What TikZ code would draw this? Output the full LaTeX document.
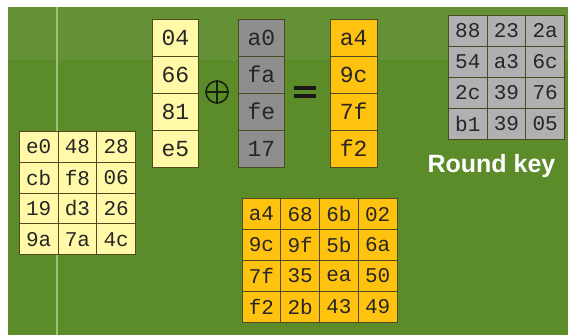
\documentclass[tikz,border=0pt]{standalone}
\usepackage{fontspec}
\newfontfamily\monof{Liberation Mono}
\newfontfamily\sansb{Liberation Sans}
\definecolor{bgg}{HTML}{5C8B2A}
\definecolor{vline}{HTML}{9CC27A}
\definecolor{ly}{HTML}{FFF9A8}
\definecolor{dg}{HTML}{8E8E8E}
\definecolor{lg}{HTML}{B0B0B2}
\definecolor{og}{HTML}{FFC20E}
\definecolor{bord}{HTML}{4E4A22}
\definecolor{sym}{HTML}{14240C}
\tikzset{
  cellbox/.style={draw=bord, line width=0.8pt, inner sep=0pt, anchor=north west,
     text=black!85},
  mcell/.style={cellbox, minimum width=38.7pt, minimum height=30.8pt,
     font=\monof\fontsize{21}{21}\selectfont},
  ccell/.style={cellbox, minimum width=46.5pt, minimum height=36.9pt,
     font=\monof\fontsize{23}{23}\selectfont},
}
\begin{document}
\begin{tikzpicture}[x=1pt,y=-1pt]
\useasboundingbox (0,0) rectangle (568,335);
\fill[white] (0,0) rectangle (568,335);
\fill[bgg] (8,7) rectangle (568,335);
\fill[white,opacity=0.06] (8,7) rectangle (568,60);
\draw[vline, line width=1.4pt] (57,7) -- (57,335);
% left state matrix
\foreach \v [count=\i from 0] in {e0,48,28,cb,f8,06,19,d3,26,9a,7a,4c}{
  \pgfmathtruncatemacro\c{mod(\i,3)}
  \pgfmathtruncatemacro\r{div(\i,3)}
  \node[mcell, fill=ly] (L\i) at (19+\c*38.7, 131+\r*30.8) {\v};
}
% column
\foreach \v [count=\i from 0] in {04,66,81,e5}{
  \node[ccell, fill=ly] (A\i) at (151.7, 19+\i*36.9) {\v};
}
\foreach \v [count=\i from 0] in {a0,fa,fe,17}{
  \node[ccell, fill=dg] (B\i) at (237.7, 19+\i*36.9) {\v};
}
\foreach \v [count=\i from 0] in {a4,9c,7f,f2}{
  \node[ccell, fill=og] (C\i) at (330, 19+\i*36.9) {\v};
}
% xor symbol
\node[circle, draw=sym, line width=1.6pt, minimum size=22pt, inner sep=0pt] (xor) at (217,92) {};
\draw[sym, line width=1.6pt] (xor.north) -- (xor.south) (xor.west) -- (xor.east);
% equals
\node[fill=black!90, minimum width=22pt, minimum height=4pt, inner sep=0pt] (eqa) at (304.5,87.5) {};
\node[fill=black!90, minimum width=22pt, minimum height=4pt, inner sep=0pt] (eqb) at (304.5,96) {};
% round key
\foreach \v [count=\i from 0] in {88,23,2a,54,a3,6c,2c,39,76,b1,39,05}{
  \pgfmathtruncatemacro\c{mod(\i,3)}
  \pgfmathtruncatemacro\r{div(\i,3)}
  \node[mcell, fill=lg] (K\i) at (448+\c*38.7, 15+\r*31) {\v};
}
\node[text=white, font=\sansb\bfseries\fontsize{25}{25}\selectfont] (rk) at (491.5,166) {Round key};
% result matrix
\foreach \v [count=\i from 0] in {a4,68,6b,02,9c,9f,5b,6a,7f,35,ea,50,f2,2b,43,49}{
  \pgfmathtruncatemacro\c{mod(\i,4)}
  \pgfmathtruncatemacro\r{div(\i,4)}
  \node[mcell, fill=og] (R\i) at (241.7+\c*38.75, 198.3+\r*30.85) {\v};
}
\end{tikzpicture}
\end{document}
